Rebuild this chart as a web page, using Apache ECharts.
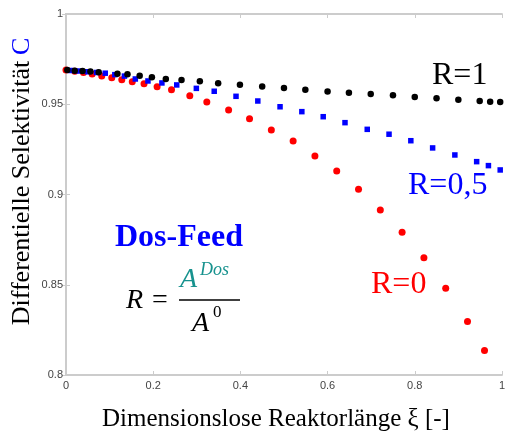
<!DOCTYPE html>
<html><head><meta charset="utf-8">
<script src="https://cdn.jsdelivr.net/npm/echarts@6/dist/echarts.min.js"></script>
<style>html,body{margin:0;padding:0;background:#fff}#c{width:508px;height:441px}</style>
</head><body><div id="c"></div>
<script>
const xTicks = [0, 0.2, 0.4, 0.6, 0.8, 1];
const yTicks = [0.8, 0.85, 0.9, 0.95, 1];

const blackX = [0.003,0.02,0.038,0.056,0.075,0.118,0.141,0.169,0.197,0.229,0.265,0.307,0.349,0.399,0.45,0.5,0.549,0.6,0.649,0.699,0.75,0.8,0.85,0.9,0.949,0.973,0.996];
const blackY = [0.969,0.9686,0.9684,0.9682,0.9677,0.9669,0.9666,0.9658,0.9649,0.964,0.9634,0.9627,0.9616,0.9608,0.9599,0.959,0.958,0.9571,0.9564,0.9557,0.955,0.954,0.9533,0.9525,0.9518,0.9514,0.9512];

const blueX = [0.011,0.03,0.05,0.07,0.09,0.112,0.134,0.159,0.188,0.22,0.254,0.299,0.34,0.39,0.44,0.491,0.541,0.59,0.64,0.691,0.741,0.791,0.841,0.892,0.942,0.969,0.996];
const blueY = [0.9687,0.9684,0.968,0.9676,0.9672,0.9664,0.9656,0.964,0.9629,0.9618,0.9607,0.9588,0.9572,0.9544,0.9518,0.9486,0.9459,0.9431,0.9398,0.9361,0.9334,0.9298,0.9258,0.9219,0.9182,0.916,0.9136];

const redX = [0.0,0.02,0.04,0.06,0.082,0.105,0.128,0.152,0.179,0.209,0.242,0.284,0.323,0.373,0.421,0.471,0.521,0.571,0.621,0.671,0.721,0.771,0.821,0.871,0.921,0.96];
const redY = [0.969,0.9683,0.9676,0.9668,0.9657,0.9647,0.9636,0.9625,0.9614,0.9597,0.958,0.9547,0.9513,0.9468,0.942,0.9357,0.9296,0.9213,0.913,0.9029,0.8914,0.8791,0.865,0.848,0.8297,0.8136];

const zip = (xs, ys) => xs.map((x, i) => [x, ys[i]]);

const axisGray = '#cccccc';
const labelStyle = { color: '#444', fontSize: 11, fontFamily: 'Arial, Liberation Sans, sans-serif' };
const fmt = v => (Math.round(v * 100) / 100).toString();
const serif = '"Liberation Serif", "Times New Roman", serif';

const chart = echarts.init(document.getElementById('c'), null, { renderer: 'canvas' });
chart.setOption({
  animation: false,
  backgroundColor: '#fff',
  grid: { left: 66, right: 1, top: 14, bottom: 66, show: false },
  xAxis: [{
    type: 'value', min: 0, max: 1, interval: 0.2, position: 'bottom',
    axisLine: { show: true, lineStyle: { color: axisGray, width: 2 } },
    axisTick: { show: true, inside: true, length: 4, lineStyle: { color: axisGray } },
    axisLabel: Object.assign({ margin: 5, formatter: fmt }, labelStyle),
    splitLine: { show: false }
  }, {
    type: 'value', min: 0, max: 1, interval: 0.2, position: 'top',
    axisLine: { show: true, lineStyle: { color: axisGray, width: 2 } },
    axisTick: { show: true, inside: true, length: 4, lineStyle: { color: axisGray } },
    axisLabel: { show: false }, splitLine: { show: false }
  }],
  yAxis: [{
    type: 'value', min: 0.8, max: 1, interval: 0.05, position: 'left',
    axisLine: { show: true, lineStyle: { color: axisGray, width: 2 } },
    axisTick: { show: true, inside: true, length: 4, lineStyle: { color: axisGray } },
    axisLabel: Object.assign({ margin: 3, formatter: fmt }, labelStyle),
    splitLine: { show: false }
  }, {
    type: 'value', min: 0.8, max: 1, interval: 0.05, position: 'right',
    axisLine: { show: true, lineStyle: { color: axisGray, width: 2 } },
    axisTick: { show: true, inside: true, length: 4, lineStyle: { color: axisGray } },
    axisLabel: { show: false }, splitLine: { show: false }
  }],
  series: [
    { name: 'R=0', type: 'scatter', symbol: 'circle', symbolSize: 7, z: 2,
      itemStyle: { color: '#ff0000', opacity: 1 }, data: zip(redX, redY) },
    { name: 'R=0,5', type: 'scatter', symbol: 'rect', symbolSize: 5.5, z: 3,
      itemStyle: { color: '#0000ff', opacity: 1 }, data: zip(blueX, blueY) },
    { name: 'R=1', type: 'scatter', symbol: 'circle', symbolSize: 6.5, z: 4,
      itemStyle: { color: '#000000', opacity: 1 }, data: zip(blackX, blackY) }
  ],
  graphic: [
    { type: 'text', x: 22, y: 193, rotation: Math.PI / 2,
      style: { text: 'Differentielle Selektivität', textAlign: 'center', textVerticalAlign: 'middle',
        font: '26px ' + serif, fill: '#000' } },
    { type: 'text', x: 22, y: 55, rotation: Math.PI / 2,
      style: { text: 'C', textAlign: 'left', textVerticalAlign: 'middle',
        font: '26px ' + serif, fill: '#0000ff' } },
    { type: 'text', x: 276, y: 432,
      style: { text: 'Dimensionslose Reaktorlänge ξ [-]', textAlign: 'center', textVerticalAlign: 'bottom',
        font: '25px ' + serif, fill: '#000' } },
    { type: 'text', x: 432, y: 92,
      style: { text: 'R=1', textAlign: 'left', textVerticalAlign: 'bottom',
        font: '32px ' + serif, fill: '#000' } },
    { type: 'text', x: 408, y: 202,
      style: { text: 'R=0,5', textAlign: 'left', textVerticalAlign: 'bottom',
        font: '32px ' + serif, fill: '#0000ff' } },
    { type: 'text', x: 371, y: 301,
      style: { text: 'R=0', textAlign: 'left', textVerticalAlign: 'bottom',
        font: '32px ' + serif, fill: '#ff0000' } },
    { type: 'text', x: 115, y: 254,
      style: { text: 'Dos-Feed', textAlign: 'left', textVerticalAlign: 'bottom',
        font: 'bold 32px ' + serif, fill: '#0000ff' } },
    { type: 'text', x: 126, y: 315,
      style: { text: 'R', textAlign: 'left', textVerticalAlign: 'bottom',
        font: 'italic 28px ' + serif, fill: '#000' } },
    { type: 'text', x: 152, y: 315,
      style: { text: '=', textAlign: 'left', textVerticalAlign: 'bottom',
        font: '28px ' + serif, fill: '#000' } },
    { type: 'line', shape: { x1: 179, y1: 300, x2: 240, y2: 300 },
      style: { stroke: '#000', lineWidth: 1.5 } },
    { type: 'text', x: 180, y: 294,
      style: { text: 'A', textAlign: 'left', textVerticalAlign: 'bottom',
        font: 'italic 28px ' + serif, fill: '#17928e' } },
    { type: 'text', x: 200, y: 279,
      style: { text: 'Dos', textAlign: 'left', textVerticalAlign: 'bottom',
        font: 'italic 18px ' + serif, fill: '#17928e' } },
    { type: 'text', x: 192, y: 338,
      style: { text: 'A', textAlign: 'left', textVerticalAlign: 'bottom',
        font: 'italic 28px ' + serif, fill: '#000' } },
    { type: 'text', x: 213, y: 321,
      style: { text: '0', textAlign: 'left', textVerticalAlign: 'bottom',
        font: '17px ' + serif, fill: '#000' } }
  ]
});
</script></body></html>
